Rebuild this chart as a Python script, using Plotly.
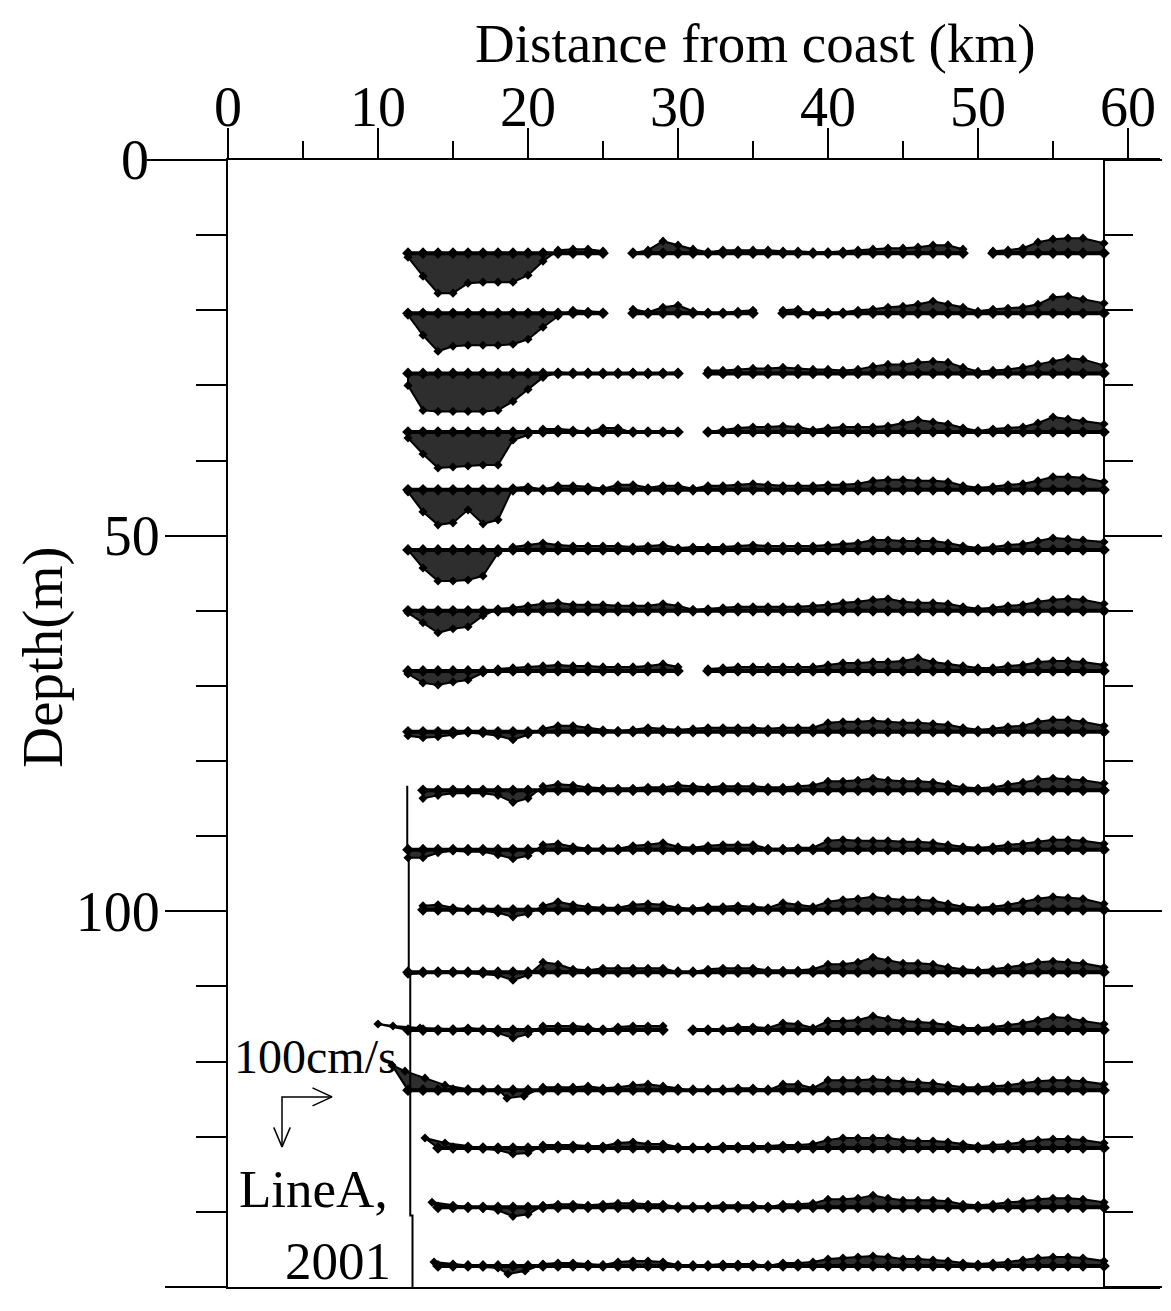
import plotly.graph_objects as go

# ---------------- data ----------------
distance_km = [12, 13, 14, 15, 16, 17, 18, 19, 20, 21, 22, 23, 24, 25, 26, 27, 28, 29, 30,
               31, 32, 33, 34, 35, 36, 37, 38, 39, 40, 41, 42, 43, 44, 45, 46, 47, 48, 49,
               50, 51, 52, 53, 54, 55, 56, 57, 58.4]
depth_m = [12.4, 20.4, 28.4, 36.2, 43.9, 51.9, 60.0, 68.0, 76.1, 83.9, 91.8, 99.8,
           108.1, 115.8, 123.8, 131.5, 139.4, 147.2]

# vertical component (cm/s, positive = downward arrow in legend)
V1 = [8,46,80,80,60,58,58,58,44,16,-6,-8,-8,-4,None,0,-6,-24,-16,-8,-2,-6,-6,-6,-6,-4,-4,-2,-2,-4,-6,-8,-10,-10,-12,-16,-16,-8,None,-4,-6,-10,-22,-28,-30,-30,-20]
V2 = [4,44,76,66,64,64,64,62,52,28,6,-6,-4,-2,None,-8,-2,-12,-16,-4,0,0,-4,-6,None,-6,-8,4,4,-2,-6,-8,-12,-14,-18,-24,-18,-12,-4,-8,-10,-12,-18,-32,-34,-28,-20]
V3 = [24,74,76,76,76,76,74,56,32,8,-2,0,-2,2,0,-2,2,0,-2,None,-6,-6,-8,-10,-10,-12,-10,-8,-8,-6,-8,-14,-18,-18,-22,-24,-22,-12,-4,-6,-8,-12,-18,-24,-30,-28,-16]
V4 = [12,44,72,70,68,66,66,16,6,-6,-6,-4,0,-8,-8,2,0,0,0,None,0,-4,-8,-10,-10,-12,-10,-4,-8,-10,-10,-10,-12,-18,-24,-20,-16,-8,-2,-6,-8,-10,-18,-30,-26,-22,-16]
V5 = [4,44,70,66,40,68,60,-4,-6,0,-8,-8,-6,-2,-10,-10,-4,-8,-8,-2,-8,-8,-10,-12,-10,-8,-8,-8,-10,-10,-12,-18,-20,-20,-18,-18,-16,-8,-4,-6,-10,-12,-18,-26,-26,-24,-16]
V6 = [0,36,62,62,60,52,6,-6,-10,-14,-10,-8,-8,-8,-8,-6,-8,-10,-4,-6,-6,-6,-8,-10,-8,-8,-8,-8,-10,-12,-14,-20,-20,-18,-18,-18,-14,-8,-4,-6,-10,-12,-18,-24,-22,-20,-16]
V7 = [4,24,44,36,32,10,-4,-6,-10,-14,-16,-12,-12,-12,-10,-10,-10,-14,-10,-2,-4,-6,-8,-8,-8,-8,-8,-10,-12,-16,-18,-22,-24,-18,-16,-16,-14,-8,-4,-6,-10,-12,-18,-22,-24,-22,-14]
V8 = [6,24,28,22,18,4,-4,-6,-8,-10,-12,-10,-10,-8,-8,-8,-10,-14,-8,None,-4,-6,-8,-8,-8,-8,-8,-8,-12,-16,-16,-18,-18,-20,-26,-18,-14,-10,-6,-6,-10,-12,-18,-20,-20,-18,-12]
V9 = [8,12,10,6,2,4,8,16,6,-6,-12,-12,-8,-4,-2,-4,-8,-6,-4,-6,-8,-8,-8,-8,-6,-8,-8,-8,-18,-20,-20,-22,-20,-18,-18,-16,-14,-8,-4,-6,-10,-12,-20,-24,-24,-20,-12]
V10 = [None,16,10,6,6,6,10,24,16,-8,-12,-10,-6,-4,-4,-4,-6,-6,-10,-8,-6,-8,-8,-8,-6,-6,-8,-10,-18,-18,-20,-24,-20,-18,-18,-16,-12,-6,-4,-6,-12,-16,-22,-24,-22,-20,-14]
V11 = [16,16,6,2,4,4,10,18,12,-10,-12,-6,-2,-2,-2,-8,-10,-14,-6,-4,-8,-10,-10,-10,-2,-2,-4,-4,-18,-20,-18,-18,-18,-16,-16,-14,-10,-6,-4,-6,-10,-12,-16,-20,-20,-18,-12]
V12 = [None,-8,-10,-4,0,2,6,14,8,-8,-16,-10,-6,-4,-4,-10,-12,-10,-4,-2,-6,-6,-8,-6,-4,-14,-10,-6,-16,-20,-22,-26,-22,-20,-20,-18,-12,-6,-4,-6,-10,-16,-22,-26,-24,-22,-12]
V13 = [4,2,-2,-2,2,4,6,16,6,-20,-16,-6,-4,-8,-8,-8,-8,-8,0,0,-6,-8,-8,-8,-4,-4,-4,-6,-16,-16,-20,-30,-24,-18,-18,-16,-10,-6,-4,-6,-10,-14,-20,-22,-20,-18,-10]
V14 = [-12,-8,-4,-2,-4,-2,6,16,8,-8,-8,-8,-6,2,-6,-8,-8,-8,None,0,0,-2,-6,-6,-4,-14,-12,-4,-18,-18,-20,-28,-22,-18,-16,-14,-10,-4,-4,-6,-10,-14,-20,-26,-24,-18,-12]
V15 = [-50,-38,-24,-10,-2,0,-2,16,12,-6,-6,-6,-8,-4,-6,-10,-12,-8,-4,2,0,-2,-4,-4,0,-12,-12,-4,-20,-20,-20,-22,-20,-18,-16,-14,-10,-6,-6,-8,-10,-14,-18,-20,-20,-18,-12]
V16 = [None,None,-20,-10,-4,2,4,12,10,-6,-6,-6,-4,-4,-10,-12,-8,-8,-2,0,0,-4,-4,-4,-4,-6,-6,-8,-16,-20,-20,-20,-20,-16,-14,-14,-12,-8,-4,-6,-8,-12,-16,-18,-18,-16,-10]
V17 = [None,None,-10,-4,0,2,6,18,14,-4,-6,-6,-4,-6,-8,-8,-6,-6,0,0,-2,-4,-4,-4,0,-6,-6,-8,-16,-16,-18,-24,-18,-14,-14,-14,-12,-6,-4,-6,-10,-12,-16,-18,-18,-16,-10]
V18 = [None,None,-8,-4,0,2,4,16,10,-4,-6,-6,-4,-2,-8,-10,-10,-8,-2,0,-2,-4,-4,-4,0,-6,-6,-8,-14,-16,-18,-20,-18,-14,-14,-12,-10,-6,-4,-6,-8,-12,-16,-18,-18,-16,-10]

# cross-shore component (cm/s, positive = rightward) where it is non-negligible
U14_lead = [-60, -60, -36]
U15_lead = [-32, -36, -26, -16, 0, 0, 0, -12, -8]
U16_lead = [0, 0, -26, -16]
U17_lead = [0, 0, -12]
U18_lead = [0, 0, -8, 0, 0, 0, 0, -10, -6]

# sea-bottom (coast) line
bottom_x_km = [11.95, 11.95, 12.05, 12.05, 12.15, 12.15, 12.3, 12.3]
bottom_depth_m = [83.3, 92, 92, 108, 108, 140.5, 140.5, 150]

x_ticks = [0, 10, 20, 30, 40, 50, 60]
y_ticks = [0, 50, 100, 150]
y_ticktext = ["", "50", "100", "150"]   # the "0" label sits further out (see annotation)
legend_speed_cms = 100

# ---------------- scales / style ----------------
KM_PER_CMS = 3.333 / 100.0   # stick length scale (horizontal)
M_PER_CMS = 6.655 / 100.0    # stick length scale (vertical)
FONT = "Liberation Serif"
INK = "black"

# figure geometry (page body has an 8px margin)
FIG_W, FIG_H = 1163, 1303
M_L, M_R, M_T, M_B = 220, 11, 152, 24
PLOT_W = FIG_W - M_L - M_R   # 932
PLOT_H = FIG_H - M_T - M_B   # 1127


def px_x(fig_px):
    return (fig_px - M_L) / PLOT_W


def px_y(fig_px):
    return 1 + (M_T - fig_px) / PLOT_H


V_rows = [V1, V2, V3, V4, V5, V6, V7, V8, V9, V10, V11, V12, V13, V14, V15, V16, V17, V18]
U_leads = {13: U14_lead, 14: U15_lead, 15: U16_lead, 16: U17_lead, 17: U18_lead}

fig = go.Figure()

for r, (d, V) in enumerate(zip(depth_m, V_rows)):
    assert len(V) == len(distance_km), (r, len(V))
    U = [0] * len(V)
    for i, u in enumerate(U_leads.get(r, [])):
        U[i] = u
    segs, cur = [], []
    for i, v in enumerate(V):
        if v is None:
            if cur:
                segs.append(cur)
            cur = []
        else:
            cur.append(i)
    if cur:
        segs.append(cur)
    px, py, bx, by, tx, ty = [], [], [], [], [], []
    for seg in segs:
        tips = [(distance_km[i] + U[i] * KM_PER_CMS, d + V[i] * M_PER_CMS) for i in seg]
        base = [(distance_km[i], d) for i in seg]
        poly = tips + base[::-1] + [tips[0]]
        px += [p[0] for p in poly] + [None]
        py += [p[1] for p in poly] + [None]
        bx += [b[0] for b in base] + [None]
        by += [b[1] for b in base] + [None]
        tx += [t[0] for t in tips]
        ty += [t[1] for t in tips]
    fig.add_trace(go.Scatter(x=px, y=py, mode="lines", fill="toself",
                             fillcolor="#2e2e2e", line=dict(color=INK, width=2),
                             hoverinfo="skip", showlegend=False))
    fig.add_trace(go.Scatter(x=bx, y=by, mode="lines+markers",
                             line=dict(color=INK, width=4),
                             marker=dict(symbol="diamond", size=9, color=INK),
                             hoverinfo="skip", showlegend=False))
    fig.add_trace(go.Scatter(x=tx, y=ty, mode="markers",
                             marker=dict(symbol="diamond", size=7, color=INK),
                             hoverinfo="skip", showlegend=False))

# coast / bottom line
fig.add_trace(go.Scatter(x=bottom_x_km, y=bottom_depth_m, mode="lines",
                         line=dict(color=INK, width=2), hoverinfo="skip", showlegend=False))

# legend arrows (100 cm/s)
ox, oy = 3.6, 124.7
Lx = legend_speed_cms * KM_PER_CMS
Ly = legend_speed_cms * M_PER_CMS
hx, hy = 1.3, 1.2
vx, vy = 0.55, 2.6
arrow_x = [ox + Lx, ox, ox, None, ox + Lx - hx, ox + Lx, ox + Lx - hx, None,
           ox - vx, ox, ox + vx]
arrow_y = [oy, oy, oy + Ly, None, oy - hy, oy, oy + hy, None,
           oy + Ly - vy, oy + Ly, oy + Ly - vy]
fig.add_trace(go.Scatter(x=arrow_x, y=arrow_y, mode="lines",
                         line=dict(color=INK, width=1.5), hoverinfo="skip", showlegend=False))

# dummy trace to activate right axis
fig.add_trace(go.Scatter(x=[None], y=[None], yaxis="y2", showlegend=False))

axis_common = dict(showline=True, linecolor=INK, linewidth=2, ticks="outside",
                   tickcolor=INK, tickwidth=2, showgrid=False, zeroline=False)

fig.update_layout(
    width=FIG_W, height=FIG_H,
    margin=dict(l=M_L, r=M_R, t=M_T, b=M_B, pad=0, autoexpand=False),
    paper_bgcolor="white", plot_bgcolor="white",
    font=dict(family=FONT, color=INK, size=55),
    xaxis=dict(range=[0, PLOT_W / 15], side="top", mirror=True,
               tickmode="array", tickvals=x_ticks, ticklen=30, ticklabelstandoff=-20,
               minor=dict(dtick=5, tick0=0, ticklen=17, tickwidth=2, tickcolor=INK,
                          ticks="outside", showgrid=False),
               tickfont=dict(family=FONT, size=56, color=INK), **axis_common),
    yaxis=dict(range=[150, 0], tickmode="array", tickvals=y_ticks, ticktext=y_ticktext,
               ticklen=61, ticklabelstandoff=-6,
               minor=dict(tickmode="linear", dtick=10, tick0=0, ticklen=30, tickwidth=2,
                          tickcolor=INK, ticks="outside", showgrid=False),
               tickfont=dict(family=FONT, size=56, color=INK), **axis_common),
    yaxis2=dict(range=[150, 0], overlaying="y", anchor="free", position=876 / PLOT_W,
                side="right", tickmode="linear", tick0=0, dtick=50, ticklen=57,
                showticklabels=False,
                minor=dict(dtick=10, tick0=0, ticklen=28, tickwidth=2, tickcolor=INK,
                           ticks="outside", showgrid=False),
                **axis_common),
)

# longer zero-depth tick
fig.add_shape(type="line", xref="paper", yref="paper", x0=-81 / PLOT_W, x1=0, y0=1, y1=1,
              line=dict(color=INK, width=2))

fig.add_annotation(text="0", xref="paper", yref="y", x=px_x(127), y=0,
                   xanchor="center", yanchor="middle", showarrow=False,
                   font=dict(family=FONT, size=56, color=INK))
fig.add_annotation(text="Distance from coast (km)", xref="paper", yref="paper",
                   x=px_x(747), y=px_y(35), xanchor="center", yanchor="middle",
                   font=dict(family=FONT, size=55, color=INK), showarrow=False)
fig.add_annotation(text="Depth(m)", xref="paper", yref="paper",
                   x=px_x(35), y=px_y(649), xanchor="center", yanchor="middle",
                   textangle=-90, font=dict(family=FONT, size=57, color=INK),
                   showarrow=False)
fig.add_annotation(text="100cm/s", x=0.25, y=119.3, xanchor="left", yanchor="middle",
                   font=dict(family=FONT, size=48, color=INK), showarrow=False)
fig.add_annotation(text="LineA,", x=10.8, y=136.9, xanchor="right", yanchor="middle",
                   font=dict(family=FONT, size=53, color=INK), showarrow=False)
fig.add_annotation(text="2001", x=11.0, y=146.6, xanchor="right", yanchor="middle",
                   font=dict(family=FONT, size=53, color=INK), showarrow=False)

fig.write_html("out.html")
